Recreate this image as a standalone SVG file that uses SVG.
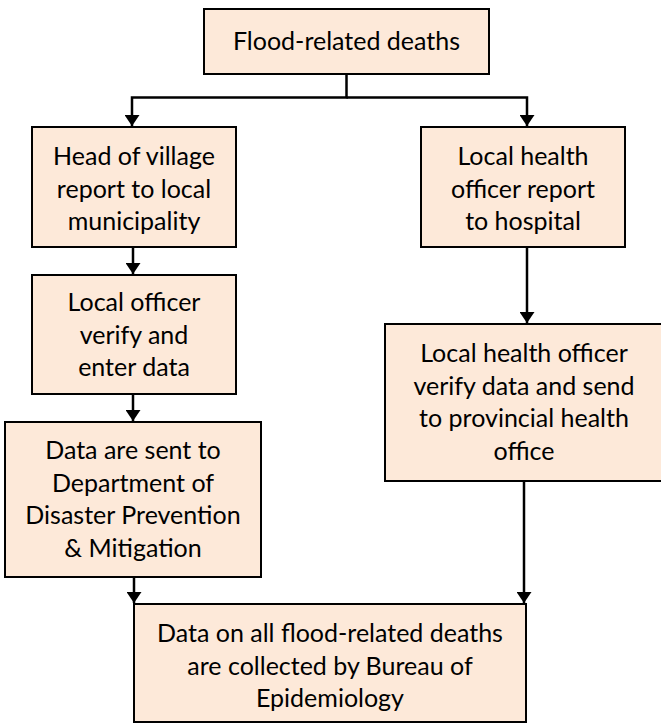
<svg xmlns="http://www.w3.org/2000/svg" width="661" height="724" viewBox="0 0 661 724">
<style>
.box{fill:#FDE9D9;stroke:#000;stroke-width:2}
.t{font-family:Lato,"Liberation Sans",sans-serif;font-size:25px;fill:#000;text-anchor:middle}
.c{fill:none;stroke:#000;stroke-width:2.5}
</style>
<defs>
<marker id="ah" markerUnits="userSpaceOnUse" markerWidth="11" markerHeight="15" refX="11" refY="7.5" orient="auto">
<path d="M0,0 L11,7.5 L0,15 Z" fill="#000"/>
</marker>
</defs>
<rect width="661" height="724" fill="#fff"/>
<g id="connectors">
<path class="c" d="M346.5,74 V97.5 H132 V126" marker-end="url(#ah)"/>
<path class="c" d="M346.5,97.5 H527 V126" marker-end="url(#ah)"/>
<path class="c" d="M133,247 V274" marker-end="url(#ah)"/>
<path class="c" d="M133,394 V421" marker-end="url(#ah)"/>
<path class="c" d="M134,577 V603" marker-end="url(#ah)"/>
<path class="c" d="M527,247 V323" marker-end="url(#ah)"/>
<path class="c" d="M524,481 V603" marker-end="url(#ah)"/>
</g>
<g id="n1">
<rect class="box" x="204" y="9" width="285" height="65"/>
<text class="t" x="346.5" y="50">Flood-related deaths</text>
</g>
<g id="n2">
<rect class="box" x="32" y="127" width="204" height="120"/>
<text class="t" x="134" y="165">Head of village</text>
<text class="t" x="134" y="197.5">report to local</text>
<text class="t" x="134" y="230">municipality</text>
</g>
<g id="n3">
<rect class="box" x="32" y="275" width="204" height="119"/>
<text class="t" x="134" y="311">Local officer</text>
<text class="t" x="134" y="343.5">verify and</text>
<text class="t" x="134" y="376">enter data</text>
</g>
<g id="n4">
<rect class="box" x="5" y="422" width="256" height="155"/>
<text class="t" x="133" y="459">Data are sent to</text>
<text class="t" x="133" y="491.5">Department of</text>
<text class="t" x="133" y="524">Disaster Prevention</text>
<text class="t" x="133" y="556.5">&amp; Mitigation</text>
</g>
<g id="n5">
<rect class="box" x="421" y="127" width="204" height="120"/>
<text class="t" x="523" y="165">Local health</text>
<text class="t" x="523" y="197.5">officer report</text>
<text class="t" x="523" y="230">to hospital</text>
</g>
<g id="n6">
<rect class="box" x="385" y="324" width="280" height="157"/>
<text class="t" x="524" y="362">Local health officer</text>
<text class="t" x="524" y="394.5">verify data and send</text>
<text class="t" x="524" y="427">to provincial health</text>
<text class="t" x="524" y="459.5">office</text>
</g>
<g id="n7">
<rect class="box" x="134" y="604" width="392" height="118"/>
<text class="t" x="330" y="642">Data on all flood-related deaths</text>
<text class="t" x="330" y="674.5">are collected by Bureau of</text>
<text class="t" x="330" y="707">Epidemiology</text>
</g>
</svg>
